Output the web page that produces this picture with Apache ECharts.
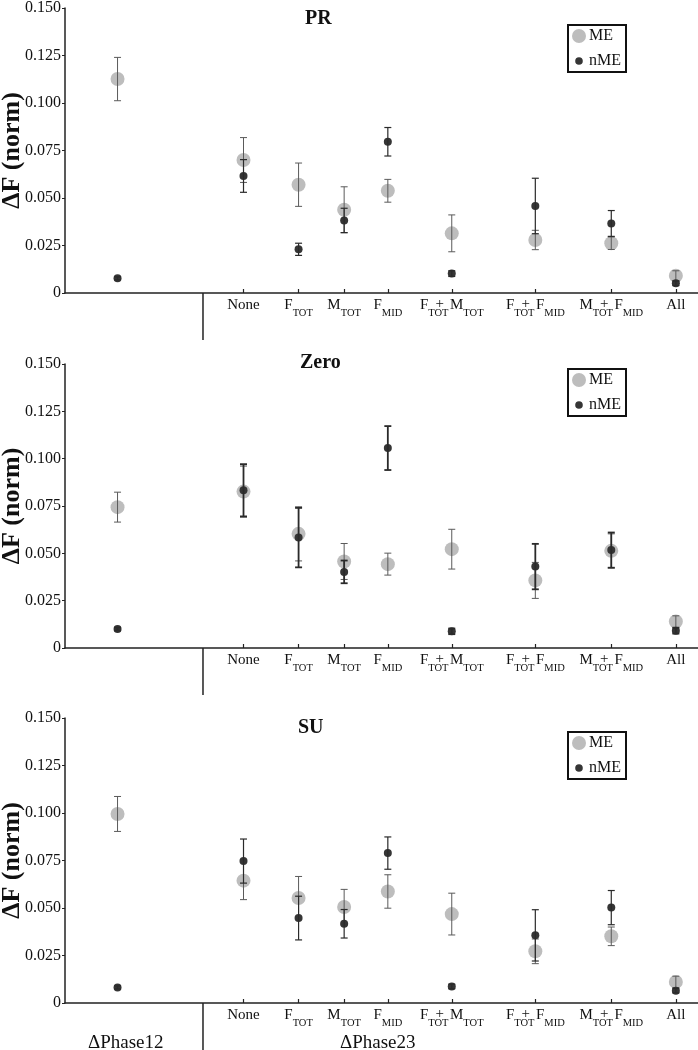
<!DOCTYPE html>
<html>
<head>
<meta charset="utf-8">
<script src="https://cdn.jsdelivr.net/npm/echarts@6/dist/echarts.min.js"></script>
<style>
html,body{margin:0;padding:0;background:#fff;}
#chart{width:698px;height:1050px;}
</style>
</head>
<body>
<div id="chart"></div>
<script>
// ---- data ----
const panelTitles = ['PR', 'Zero', 'SU'];
// x positions: first is ΔPhase12 group, rest are ΔPhase23 conditions
const xPos = [0.83, 2.82, 3.69, 4.41, 5.10, 6.11, 7.43, 8.63, 9.65];
const catLabels = ['', 'None', 'F_TOT', 'M_TOT', 'F_MID', 'F_TOT + M_TOT', 'F_TOT + F_MID', 'M_TOT + F_MID', 'All'];
const dividerX = 2.18;
const groupLabels = ['ΔPhase12', 'ΔPhase23'];
const yTicks = [0, 0.025, 0.05, 0.075, 0.1, 0.125, 0.15];

const prME = [0.1126, 0.0700, 0.0570, 0.0438, 0.0538, 0.0314, 0.0279, 0.0262, 0.0091];
const prMEerr = [0.0114, 0.0118, 0.0114, 0.0121, 0.0060, 0.0097, 0.0051, 0.0033, 0.0026];
const prNME = [0.0077, 0.0616, 0.0230, 0.0382, 0.0796, 0.0102, 0.0458, 0.0366, 0.0051];
const prNMEerr = [0.0008, 0.0086, 0.0032, 0.0064, 0.0075, 0.0015, 0.0146, 0.0068, 0.0012];

const zeroME = [0.0744, 0.0826, 0.0603, 0.0457, 0.0443, 0.0522, 0.0357, 0.0513, 0.0140];
const zeroMEerr = [0.0079, 0.0135, 0.0143, 0.0095, 0.0058, 0.0105, 0.0095, 0.0090, 0.0030];
const zeroNME = [0.0100, 0.0833, 0.0583, 0.0402, 0.1056, 0.0088, 0.0430, 0.0517, 0.0091];
const zeroNMEerr = [0.0008, 0.0138, 0.0157, 0.0060, 0.0116, 0.0015, 0.0120, 0.0093, 0.0015];

const suME = [0.0995, 0.0644, 0.0553, 0.0505, 0.0587, 0.0468, 0.0272, 0.0351, 0.0111];
const suMEerr = [0.0092, 0.0100, 0.0113, 0.0093, 0.0088, 0.0110, 0.0065, 0.0049, 0.0030];
const suNME = [0.0082, 0.0747, 0.0447, 0.0417, 0.0789, 0.0087, 0.0356, 0.0502, 0.0065];
const suNMEerr = [0.0008, 0.0116, 0.0115, 0.0075, 0.0085, 0.0012, 0.0135, 0.0090, 0.0012];

const panelData = [
  {me: prME, meErr: prMEerr, nme: prNME, nmeErr: prNMEerr},
  {me: zeroME, meErr: zeroMEerr, nme: zeroNME, nmeErr: zeroNMEerr},
  {me: suME, meErr: suMEerr, nme: suNME, nmeErr: suNMEerr}
];

// ---- layout / style ----
const FF = 'Liberation Serif';
const gridTops = [8, 364, 718];
const gridHeights = [285, 284, 285];
const titlePos = [{left: 305, top: 9}, {left: 300, top: 353}, {left: 298, top: 718}];
const legendTops = [25, 369, 732];
const nmeBarWidth = [1.2, 1.8, 1.2];
const ME_COLOR = '#bdbdbd';
const NME_COLOR = '#353535';

function richLabel(str) {
  if (!str) return '';
  const parts = str.split(/_(TOT|MID)/);
  let out = '';
  parts.forEach((p, i) => {
    if (p === '') return;
    if (i % 2 === 1) { out += '{s|' + p + '}'; return; }
    const t = p.trim();
    if (t.startsWith('+')) {
      out += '{p|+}{m|' + t.slice(1).trim() + '}';
    } else {
      out += '{m|' + t + '}';
    }
  });
  return out;
}

function errRender(color, width, cap) {
  return function (params, api) {
    const x = api.value(0), y = api.value(1), e = api.value(2);
    const t = api.coord([x, y + e]);
    const b = api.coord([x, y - e]);
    const style = {stroke: color, lineWidth: width, fill: null};
    return {
      type: 'group',
      children: [
        {type: 'line', shape: {x1: t[0], y1: t[1], x2: b[0], y2: b[1]}, style: style},
        {type: 'line', shape: {x1: t[0] - cap, y1: t[1], x2: t[0] + cap, y2: t[1]}, style: style},
        {type: 'line', shape: {x1: b[0] - cap, y1: b[1], x2: b[0] + cap, y2: b[1]}, style: style}
      ]
    };
  };
}

function dividerRender(params, api) {
  const p = api.coord([api.value(0), 0]);
  return {
    type: 'line',
    shape: {x1: p[0], y1: p[1], x2: p[0], y2: p[1] + 47},
    style: {stroke: '#222', lineWidth: 1.5}
  };
}

const grids = [], xAxes = [], yAxes = [], series = [], titles = [], legends = [];

panelTitles.forEach((name, i) => {
  grids.push({left: 65, top: gridTops[i], width: 633, height: gridHeights[i],
    containLabel: false, outerBoundsMode: 'none'});
  xAxes.push({
    type: 'value', gridIndex: i, min: 0, max: 10,
    splitLine: {show: false},
    axisLine: {lineStyle: {color: '#222', width: 1.5}},
    axisTick: {customValues: xPos.slice(1), inside: true, length: 4, lineStyle: {color: '#222', width: 1.2}},
    axisLabel: {
      customValues: xPos.slice(1),
      margin: 10,
      hideOverlap: false,
      formatter: function (v) { return richLabel(catLabels[xPos.indexOf(v)]); },
      rich: {
        m: {fontFamily: FF, fontSize: 15, color: '#111', lineHeight: 16, verticalAlign: 'bottom', padding: [0, 0, 6, 0]},
        p: {fontFamily: FF, fontSize: 15, color: '#111', lineHeight: 16, verticalAlign: 'bottom', padding: [0, 6, 7, -13]},
        s: {fontFamily: FF, fontSize: 10.5, color: '#111', lineHeight: 11, verticalAlign: 'bottom'}
      }
    }
  });
  yAxes.push({
    type: 'value', gridIndex: i, min: 0, max: 0.15, interval: 0.025,
    splitLine: {show: false},
    axisLine: {show: true, lineStyle: {color: '#222', width: 1.5}},
    axisTick: {show: true, length: 3, lineStyle: {color: '#222'}},
    axisLabel: {
      fontFamily: FF, fontSize: 16, color: '#111', margin: 4,
      formatter: function (v) { return v === 0 ? '0' : v.toFixed(3); }
    },
    name: 'ΔF (norm)', nameLocation: 'middle', nameGap: 40, nameMoveOverlap: false,
    nameTextStyle: {fontFamily: FF, fontSize: 26, fontWeight: 'bold', color: '#111'}
  });
  titles.push({
    text: name, left: titlePos[i].left, top: titlePos[i].top, padding: 0,
    textStyle: {fontFamily: FF, fontSize: 20, fontWeight: 'bold', color: '#111'}
  });
  legends.push({
    orient: 'vertical', left: 568, top: legendTops[i],
    itemWidth: 14, itemHeight: 14, itemGap: 9,
    padding: [3, 5, 3, 4],
    borderColor: '#111', borderWidth: 2,
    textStyle: {fontFamily: FF, fontSize: 16, color: '#111', padding: [0, 0, 0, -2]},
    data: [
      {name: 'ME', icon: 'circle'},
      {name: 'nME', icon: 'path://M0 0M14 14M3.2 7a3.8 3.8 0 1 0 7.6 0a3.8 3.8 0 1 0 -7.6 0z'}
    ]
  });

  const d = panelData[i];
  series.push({
    name: 'ME', type: 'scatter', xAxisIndex: i, yAxisIndex: i, z: 2,
    symbol: 'circle', symbolSize: 14,
    itemStyle: {color: ME_COLOR, opacity: 1},
    data: xPos.map((x, k) => [x, d.me[k]])
  });
  series.push({
    name: 'ME err', type: 'custom', xAxisIndex: i, yAxisIndex: i, z: 3,
    dimensions: ['x', 'y', 'e'], encode: {x: 0, y: 1},
    renderItem: errRender('#5a5a5a', 1, 3.5),
    data: xPos.map((x, k) => [x, d.me[k], d.meErr[k]])
  });
  series.push({
    name: 'nME', type: 'scatter', xAxisIndex: i, yAxisIndex: i, z: 4,
    symbol: 'circle', symbolSize: 8,
    itemStyle: {color: NME_COLOR, opacity: 1},
    data: xPos.map((x, k) => [x, d.nme[k]])
  });
  series.push({
    name: 'nME err', type: 'custom', xAxisIndex: i, yAxisIndex: i, z: 5,
    dimensions: ['x', 'y', 'e'], encode: {x: 0, y: 1},
    renderItem: errRender('#2a2a2a', nmeBarWidth[i], 3.5),
    data: xPos.map((x, k) => [x, d.nme[k], d.nmeErr[k]])
  });
  series.push({
    name: 'divider', type: 'custom', xAxisIndex: i, yAxisIndex: i, z: 1,
    clip: false, silent: true,
    dimensions: ['x', 'y'], encode: {x: 0, y: 1},
    renderItem: dividerRender,
    data: [[dividerX, 0]]
  });
});

titles.push({text: groupLabels[0], left: 88, top: 1034, padding: 0,
  textStyle: {fontFamily: FF, fontSize: 19, fontWeight: 'normal', color: '#111'}});
titles.push({text: groupLabels[1], left: 340, top: 1034, padding: 0,
  textStyle: {fontFamily: FF, fontSize: 19, fontWeight: 'normal', color: '#111'}});

const chart = echarts.init(document.getElementById('chart'), null, {renderer: 'canvas'});
chart.setOption({
  backgroundColor: '#fff',
  animation: false,
  title: titles,
  legend: legends,
  grid: grids,
  xAxis: xAxes,
  yAxis: yAxes,
  series: series
});
</script>
</body>
</html>
